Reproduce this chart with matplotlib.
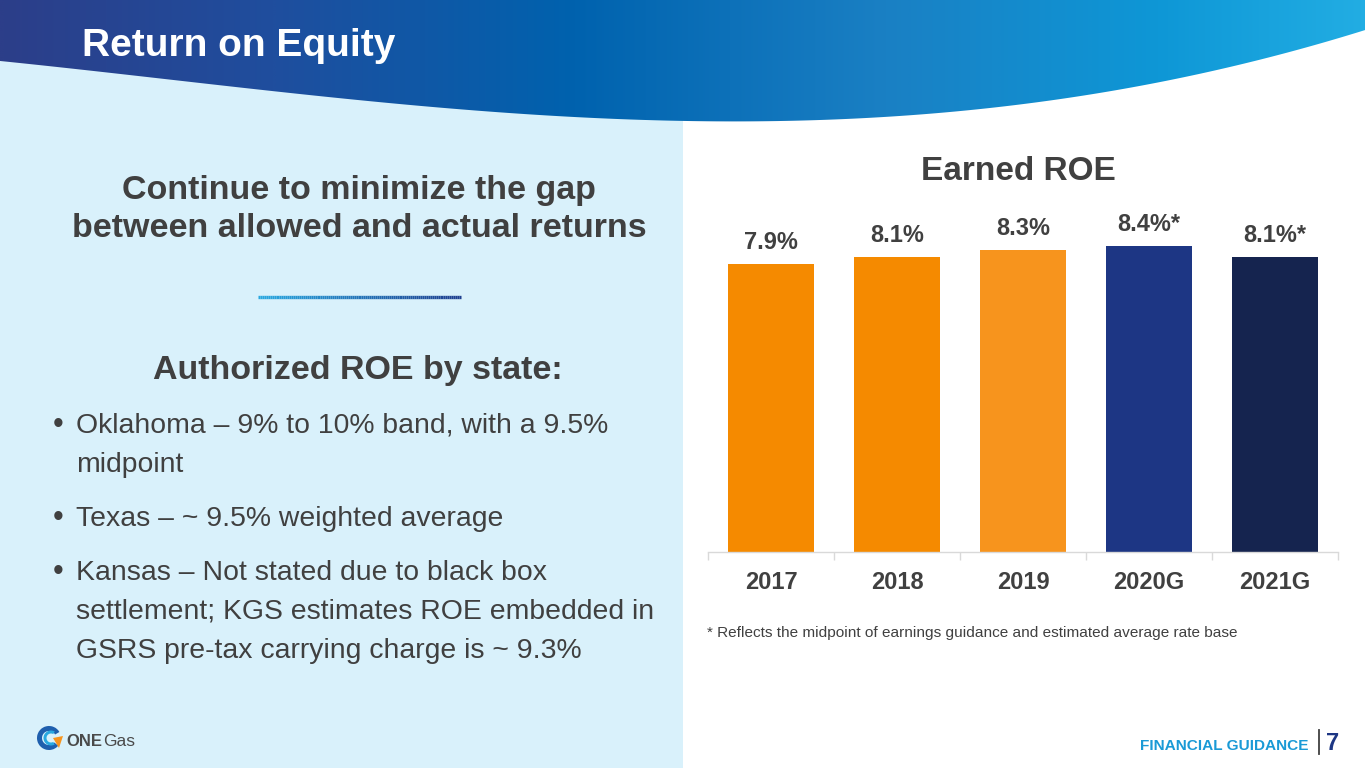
import numpy as np
import matplotlib
matplotlib.use("Agg")
import matplotlib.pyplot as plt
from matplotlib import font_manager
from matplotlib.patches import Rectangle, Polygon, Wedge
from matplotlib.collections import LineCollection
from matplotlib.colors import LinearSegmentedColormap

# ---------------- data ----------------
categories = ["2017", "2018", "2019", "2020G", "2021G"]
roe_values = [7.9, 8.1, 8.3, 8.4, 8.1]
value_labels = ["7.9%", "8.1%", "8.3%", "8.4%*", "8.1%*"]
bar_colors = ["#F58A00", "#F58A00", "#F7941D", "#1D3684", "#15244F"]

title = "Return on Equity"
chart_title = "Earned ROE"
headline = ["Continue to minimize the gap", "between allowed and actual returns"]
subhead = "Authorized ROE by state:"
bullets = [
    ["Oklahoma \u2013 9% to 10% band, with a 9.5%", "midpoint"],
    ["Texas \u2013 ~ 9.5% weighted average"],
    ["Kansas \u2013 Not stated due to black box",
     "settlement; KGS estimates ROE embedded in",
     "GSRS pre-tax carrying charge is ~ 9.3%"],
]
footnote = "* Reflects the midpoint of earnings guidance and estimated average rate base"

# ---------------- fonts ----------------
names = {f.name for f in font_manager.fontManager.ttflist}
REG = "Liberation Sans" if "Liberation Sans" in names else "DejaVu Sans"
HAS_NARROW = "Liberation Sans Narrow" in names
NARROW = "Liberation Sans Narrow" if HAS_NARROW else REG
NSCALE = 1.0 if HAS_NARROW else 0.85

TXT = "#404040"

W, H = 1365, 768
fig = plt.figure(figsize=(W / 100, H / 100), dpi=100)
fig.patch.set_facecolor("white")

bg = fig.add_axes([0, 0, 1, 1], zorder=0)
bg.set_xlim(0, W)
bg.set_ylim(H, 0)
bg.axis("off")

# left light panel
bg.add_patch(Rectangle((0, 0), 683, H, facecolor="#D9F1FB", edgecolor="none", zorder=0))

# header band with curved lower edge
cx = np.array([0, 174, 348, 522, 696, 870, 1044, 1218, 1365])
cy = np.array([61, 80, 99, 114, 121, 118, 101, 70, 30])
coef = np.polyfit(cx, cy, 4)
xs = np.linspace(0, W, 300)
ys = np.polyval(coef, xs)
verts = [(0, -1)] + list(zip(xs, ys)) + [(W, -1)]
clip = Polygon(verts, closed=True, facecolor="none", edgecolor="none")
bg.add_patch(clip)
hdr_cmap = LinearSegmentedColormap.from_list(
    "hdr", [(0.0, "#2C3E89"), (0.2, "#1F4E9E"), (0.42, "#0062AE"),
            (0.65, "#1A80C4"), (0.85, "#0E97D6"), (1.0, "#22ADE3")])
grad = np.linspace(0, 1, 512).reshape(1, -1)
im = bg.imshow(grad, cmap=hdr_cmap, extent=[0, W, 130, 0], aspect="auto", zorder=1,
               interpolation="bilinear")
im.set_clip_path(clip)

bg.text(82, 56, title, fontsize=28, fontweight="bold", color="white", family=REG,
        ha="left", va="baseline", zorder=3)

# left panel text
bg.text(359, 199, headline[0], fontsize=24.5, fontweight="bold", color=TXT, family=REG,
        ha="center", va="baseline")
bg.text(359, 237, headline[1], fontsize=24.5, fontweight="bold", color=TXT, family=REG,
        ha="center", va="baseline")

# gradient divider
lx = np.linspace(258, 461, 100)
segs = [[(lx[i], 297), (lx[i + 1], 297)] for i in range(len(lx) - 1)]
div_cmap = LinearSegmentedColormap.from_list("div", ["#29A8E0", "#1F3F8F"])
lc = LineCollection(segs, colors=div_cmap(np.linspace(0, 1, len(segs))), linewidths=2.4)
bg.add_collection(lc)

bg.text(358, 379, subhead, fontsize=24.5, fontweight="bold", color=TXT, family=REG,
        ha="center", va="baseline")

y = 433
line_h = 39.5
for group in bullets:
    bg.text(58, y, "\u2022", fontsize=22, color=TXT,
            family=REG, ha="center", va="baseline")
    for line in group:
        bg.text(76, y, line, fontsize=24 * NSCALE, color=TXT, family=NARROW,
                ha="left", va="baseline")
        y += line_h
    y += 14

# chart title
bg.text(1018, 180, chart_title, fontsize=24, fontweight="bold", color=TXT, family=REG,
        ha="center", va="baseline")

# footnote
bg.text(707, 637, footnote, fontsize=13 * NSCALE, color=TXT, family=NARROW,
        ha="left", va="baseline")

# footer
bg.text(1308, 750, "FINANCIAL GUIDANCE", fontsize=13 * NSCALE, fontweight="bold",
        color="#1A9AD6", family=NARROW, ha="right", va="baseline")
bg.plot([1319, 1319], [730, 754], color=TXT, lw=1.3)
bg.text(1333, 750, "7", fontsize=17, fontweight="bold", color="#1D3684", family=NARROW,
        ha="center", va="baseline")

# logo
bg.add_patch(Wedge((49, 738), 12, 40, 330, width=5, facecolor="#1E5FAE", edgecolor="none"))
bg.add_patch(Wedge((51, 738), 7.5, 60, 300, width=3, facecolor="#29A8E0", edgecolor="none"))
bg.add_patch(Polygon([(53, 738), (63, 736), (59, 748)], closed=True,
                     facecolor="#F7941D", edgecolor="none"))
bg.text(66, 746, "ONE", fontsize=12, fontweight="bold", color="#4A4A4A",
        family=REG, ha="left", va="baseline")
bg.text(103, 746, "Gas", fontsize=12.5, color="#4A4A4A", family=REG,
        ha="left", va="baseline")

# ---------------- bar chart ----------------
px_per_unit = 36.4
base_y = 551.7
x0, x1 = 708, 1338
ymax = 9.0
ax = fig.add_axes([x0 / W, (H - base_y) / H, (x1 - x0) / W, ymax * px_per_unit / H], zorder=2)
ax.set_facecolor("none")
xpos = np.arange(len(categories))
bars = ax.bar(xpos, roe_values, width=86 / 126, color=bar_colors, zorder=2)
ax.set_xlim(-0.5, len(categories) - 0.5)
ax.set_ylim(0, ymax)
for b, lab in zip(bars, value_labels):
    ax.annotate(lab, (b.get_x() + b.get_width() / 2, b.get_height()),
                xytext=(0, 7), textcoords="offset points", ha="center", va="bottom",
                fontsize=20 * NSCALE, fontweight="bold", color=TXT, family=NARROW,
                annotation_clip=False)
for s in ["top", "right", "left"]:
    ax.spines[s].set_visible(False)
ax.spines["bottom"].set_color("#D9D9D9")
ax.spines["bottom"].set_linewidth(1.0)
ax.set_yticks([])
ax.set_xticks(xpos)
ax.set_xticklabels(categories, fontsize=20 * NSCALE, fontweight="bold", color=TXT,
                   family=NARROW)
ax.tick_params(axis="x", which="major", length=0, pad=14)
ax.set_xticks(np.arange(-0.5, len(categories)), minor=True)
ax.tick_params(axis="x", which="minor", length=6, color="#D9D9D9", width=1.0)

fig.savefig("out.png", dpi=100, facecolor="white")
